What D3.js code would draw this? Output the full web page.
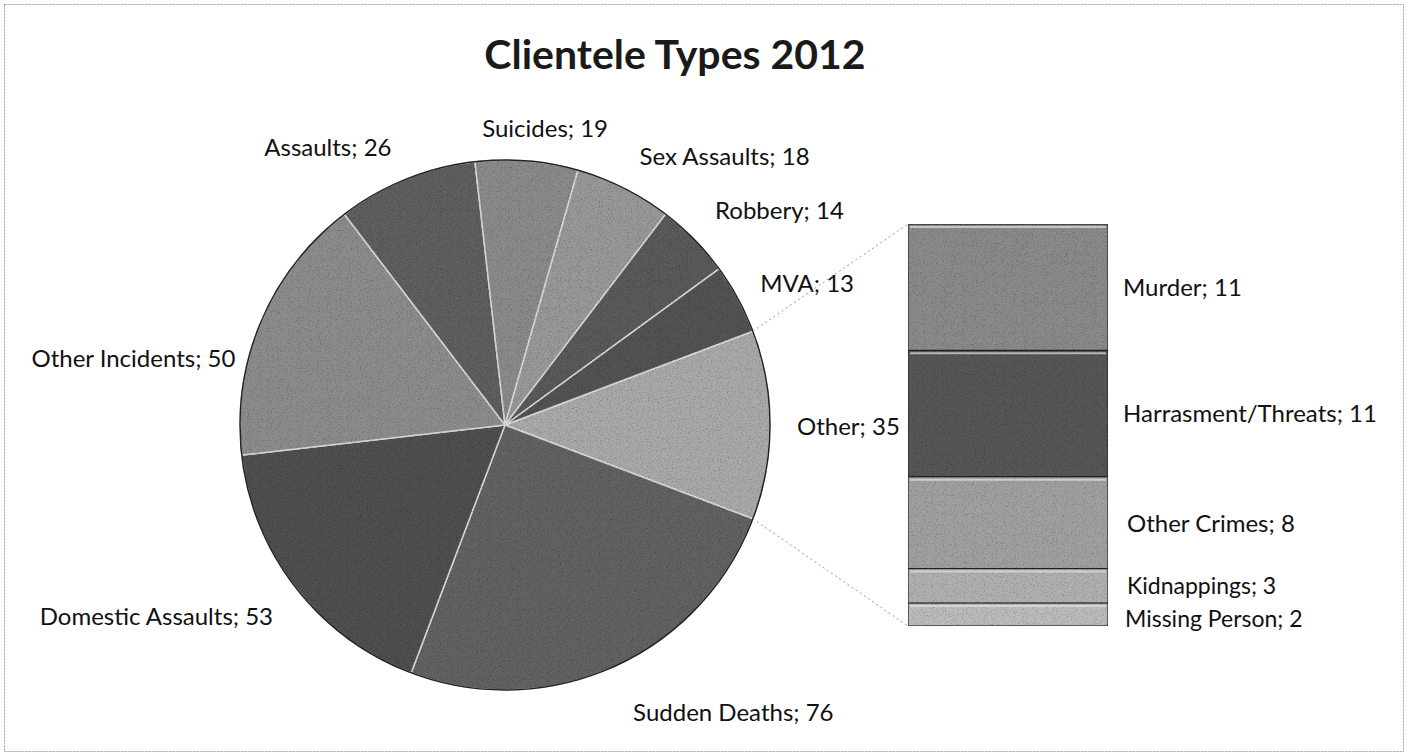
<!doctype html>
<html>
<head>
  <meta charset="utf-8">
  <script src="https://d3js.org/d3.v7.min.js"></script>
  <style>
    body {margin: 0; background: #fff;}
    text {font-family: Lato, "Open Sans", sans-serif; fill: #111;}
  </style>
</head>
<body>
  <svg id="chart" width="1408" height="756"></svg>
  <script>
    const width = 1408, height = 756

    // main pie, clockwise starting with the "Other" slice
    const pieLabels = ['Other', 'Sudden Deaths', 'Domestic Assaults', 'Other Incidents', 'Assaults',
                       'Suicides', 'Sex Assaults', 'Robbery', 'MVA']
    const pieValues = [35, 76, 53, 50, 26, 19, 18, 14, 13]
    const pieGrays  = ['#a9a9a9', '#626262', '#505050', '#8c8c8c', '#5e5e5e', '#8a8a8a', '#989898', '#5a5a5a', '#525252']

    // the bar that splits "Other"
    const barLabels = ['Murder', 'Harrasment/Threats', 'Other Crimes', 'Kidnappings', 'Missing Person']
    const barValues = [11, 11, 8, 3, 2]
    const barGrays  = ['#8a8a8a', '#575757', '#a0a0a0', '#b0b0b0', '#bbbbbb']

    const svg = d3.select('#chart')

    // grain like the scanned original
    const defs = svg.append('defs')
    const f = defs.append('filter').attr('id', 'grain').attr('x', 0).attr('y', 0).attr('width', 1).attr('height', 1)
    f.append('feTurbulence').attr('type', 'fractalNoise').attr('baseFrequency', 0.9).attr('numOctaves', 2).attr('seed', 4).attr('result', 'n')
    f.append('feColorMatrix').attr('in', 'n').attr('type', 'matrix')
      .attr('values', '0 0 0 0 0  0 0 0 0 0  0 0 0 0 0  0 0 0 -1.3 0.65').attr('result', 'dark')
    f.append('feComposite').attr('in', 'dark').attr('in2', 'SourceGraphic').attr('operator', 'in').attr('result', 'd2')
    const m = f.append('feMerge')
    m.append('feMergeNode').attr('in', 'SourceGraphic')
    m.append('feMergeNode').attr('in', 'd2')

    svg.append('rect')
      .attr('x', 4.5).attr('y', 4.5).attr('width', width - 9).attr('height', height - 9)
      .attr('fill', 'none').attr('stroke', '#a0a0a0').attr('stroke-dasharray', '2,1')

    svg.append('text')
      .attr('x', 675).attr('y', 69)
      .attr('text-anchor', 'middle')
      .attr('font-size', 41).attr('font-weight', 'bold')
      .style('fill', '#1a1a1a')
      .text('Clientele Types 2012')

    const cx = 505, cy = 425, r = 265
    const total = d3.sum(pieValues)
    const otherSpan = pieValues[0] / total * 2 * Math.PI
    const startA = Math.PI / 2 - otherSpan / 2

    const pie = d3.pie().sort(null).value(d => d)
      .startAngle(startA).endAngle(startA + 2 * Math.PI)
    const arcs = pie(pieValues)
    const arc = d3.arc().innerRadius(0).outerRadius(r)

    const gp = svg.append('g').attr('transform', `translate(${cx},${cy})`)
    gp.selectAll('path.slice')
      .data(arcs)
      .join('path')
      .attr('class', 'slice')
      .attr('d', arc)
      .attr('fill', (d, i) => pieGrays[i])
      .attr('stroke', '#d8d8d8')
      .attr('stroke-width', 1.5)
      .attr('filter', 'url(#grain)')
    gp.append('circle').attr('r', r).attr('fill', 'none').attr('stroke', '#222').attr('stroke-width', 1.5)

    // label placement: point just outside the arc, nudged the way Excel fitted them
    const nudge = [[12, 2], [13, 32], [-11, 20], [-12, 43], [-9, -18], [-46, -17], [9, -18], [10, -18], [9, -8]]
    const labArc = d3.arc().innerRadius(r + 15).outerRadius(r + 15)
    gp.selectAll('text.plab')
      .data(arcs)
      .join('text')
      .attr('class', 'plab')
      .attr('font-size', 24)
      .attr('dy', '0.35em')
      .attr('text-anchor', d => ((d.startAngle + d.endAngle) / 2) % (2 * Math.PI) < Math.PI ? 'start' : 'end')
      .attr('x', (d, i) => labArc.centroid(d)[0] + nudge[i][0])
      .attr('y', (d, i) => labArc.centroid(d)[1] + nudge[i][1])
      .text((d, i) => `${pieLabels[i]}; ${pieValues[i]}`)

    // bar of "Other"
    const barX = 908, barW = 200, barH = 402
    const y = d3.scaleLinear().domain([0, d3.sum(barValues)]).range([cy - barH / 2, cy + barH / 2])
    const cum = d3.cumsum(barValues)
    const segs = barValues.map((v, i) => ({v: v, y0: cum[i] - v, y1: cum[i], label: barLabels[i], gray: barGrays[i]}))

    const gb = svg.append('g')
    gb.selectAll('rect.seg')
      .data(segs)
      .join('rect')
      .attr('class', 'seg')
      .attr('x', barX).attr('width', barW)
      .attr('y', d => y(d.y0)).attr('height', d => y(d.y1) - y(d.y0))
      .attr('fill', d => d.gray)
      .attr('stroke', '#222').attr('stroke-width', 1.2)
      .attr('filter', 'url(#grain)')
    // light highlight at top of each segment
    gb.selectAll('line.hl')
      .data(segs)
      .join('line')
      .attr('class', 'hl')
      .attr('x1', barX + 2).attr('x2', barX + barW - 2)
      .attr('y1', d => y(d.y0) + 3).attr('y2', d => y(d.y0) + 3)
      .attr('stroke', '#e2e2e2').attr('stroke-width', 2).attr('opacity', 0.7)

    const barNudge = [[15, 0], [15, 0], [19, 1], [19, 0], [17, 4]]
    gb.selectAll('text.blab')
      .data(segs)
      .join('text')
      .attr('class', 'blab')
      .attr('font-size', (d, i) => i > 2 ? 23 : 24)
      .attr('dy', '0.35em')
      .attr('x', (d, i) => barX + barW + barNudge[i][0])
      .attr('y', (d, i) => (y(d.y0) + y(d.y1)) / 2 + barNudge[i][1])
      .text(d => `${d.label}; ${d.v}`)

    // connector lines from the "Other" slice to the bar
    const a0 = arcs[0].startAngle, a1 = arcs[0].endAngle
    const conn = [
      [[cx + r * Math.sin(a0), cy - r * Math.cos(a0)], [barX, y(0)]],
      [[cx + r * Math.sin(a1), cy - r * Math.cos(a1)], [barX, y(d3.sum(barValues))]]
    ]
    svg.selectAll('line.conn')
      .data(conn)
      .join('line')
      .attr('class', 'conn')
      .attr('x1', d => d[0][0]).attr('y1', d => d[0][1])
      .attr('x2', d => d[1][0]).attr('y2', d => d[1][1])
      .attr('stroke', '#999').attr('stroke-width', 1).attr('stroke-dasharray', '2,3')
  </script>
</body>
</html>
